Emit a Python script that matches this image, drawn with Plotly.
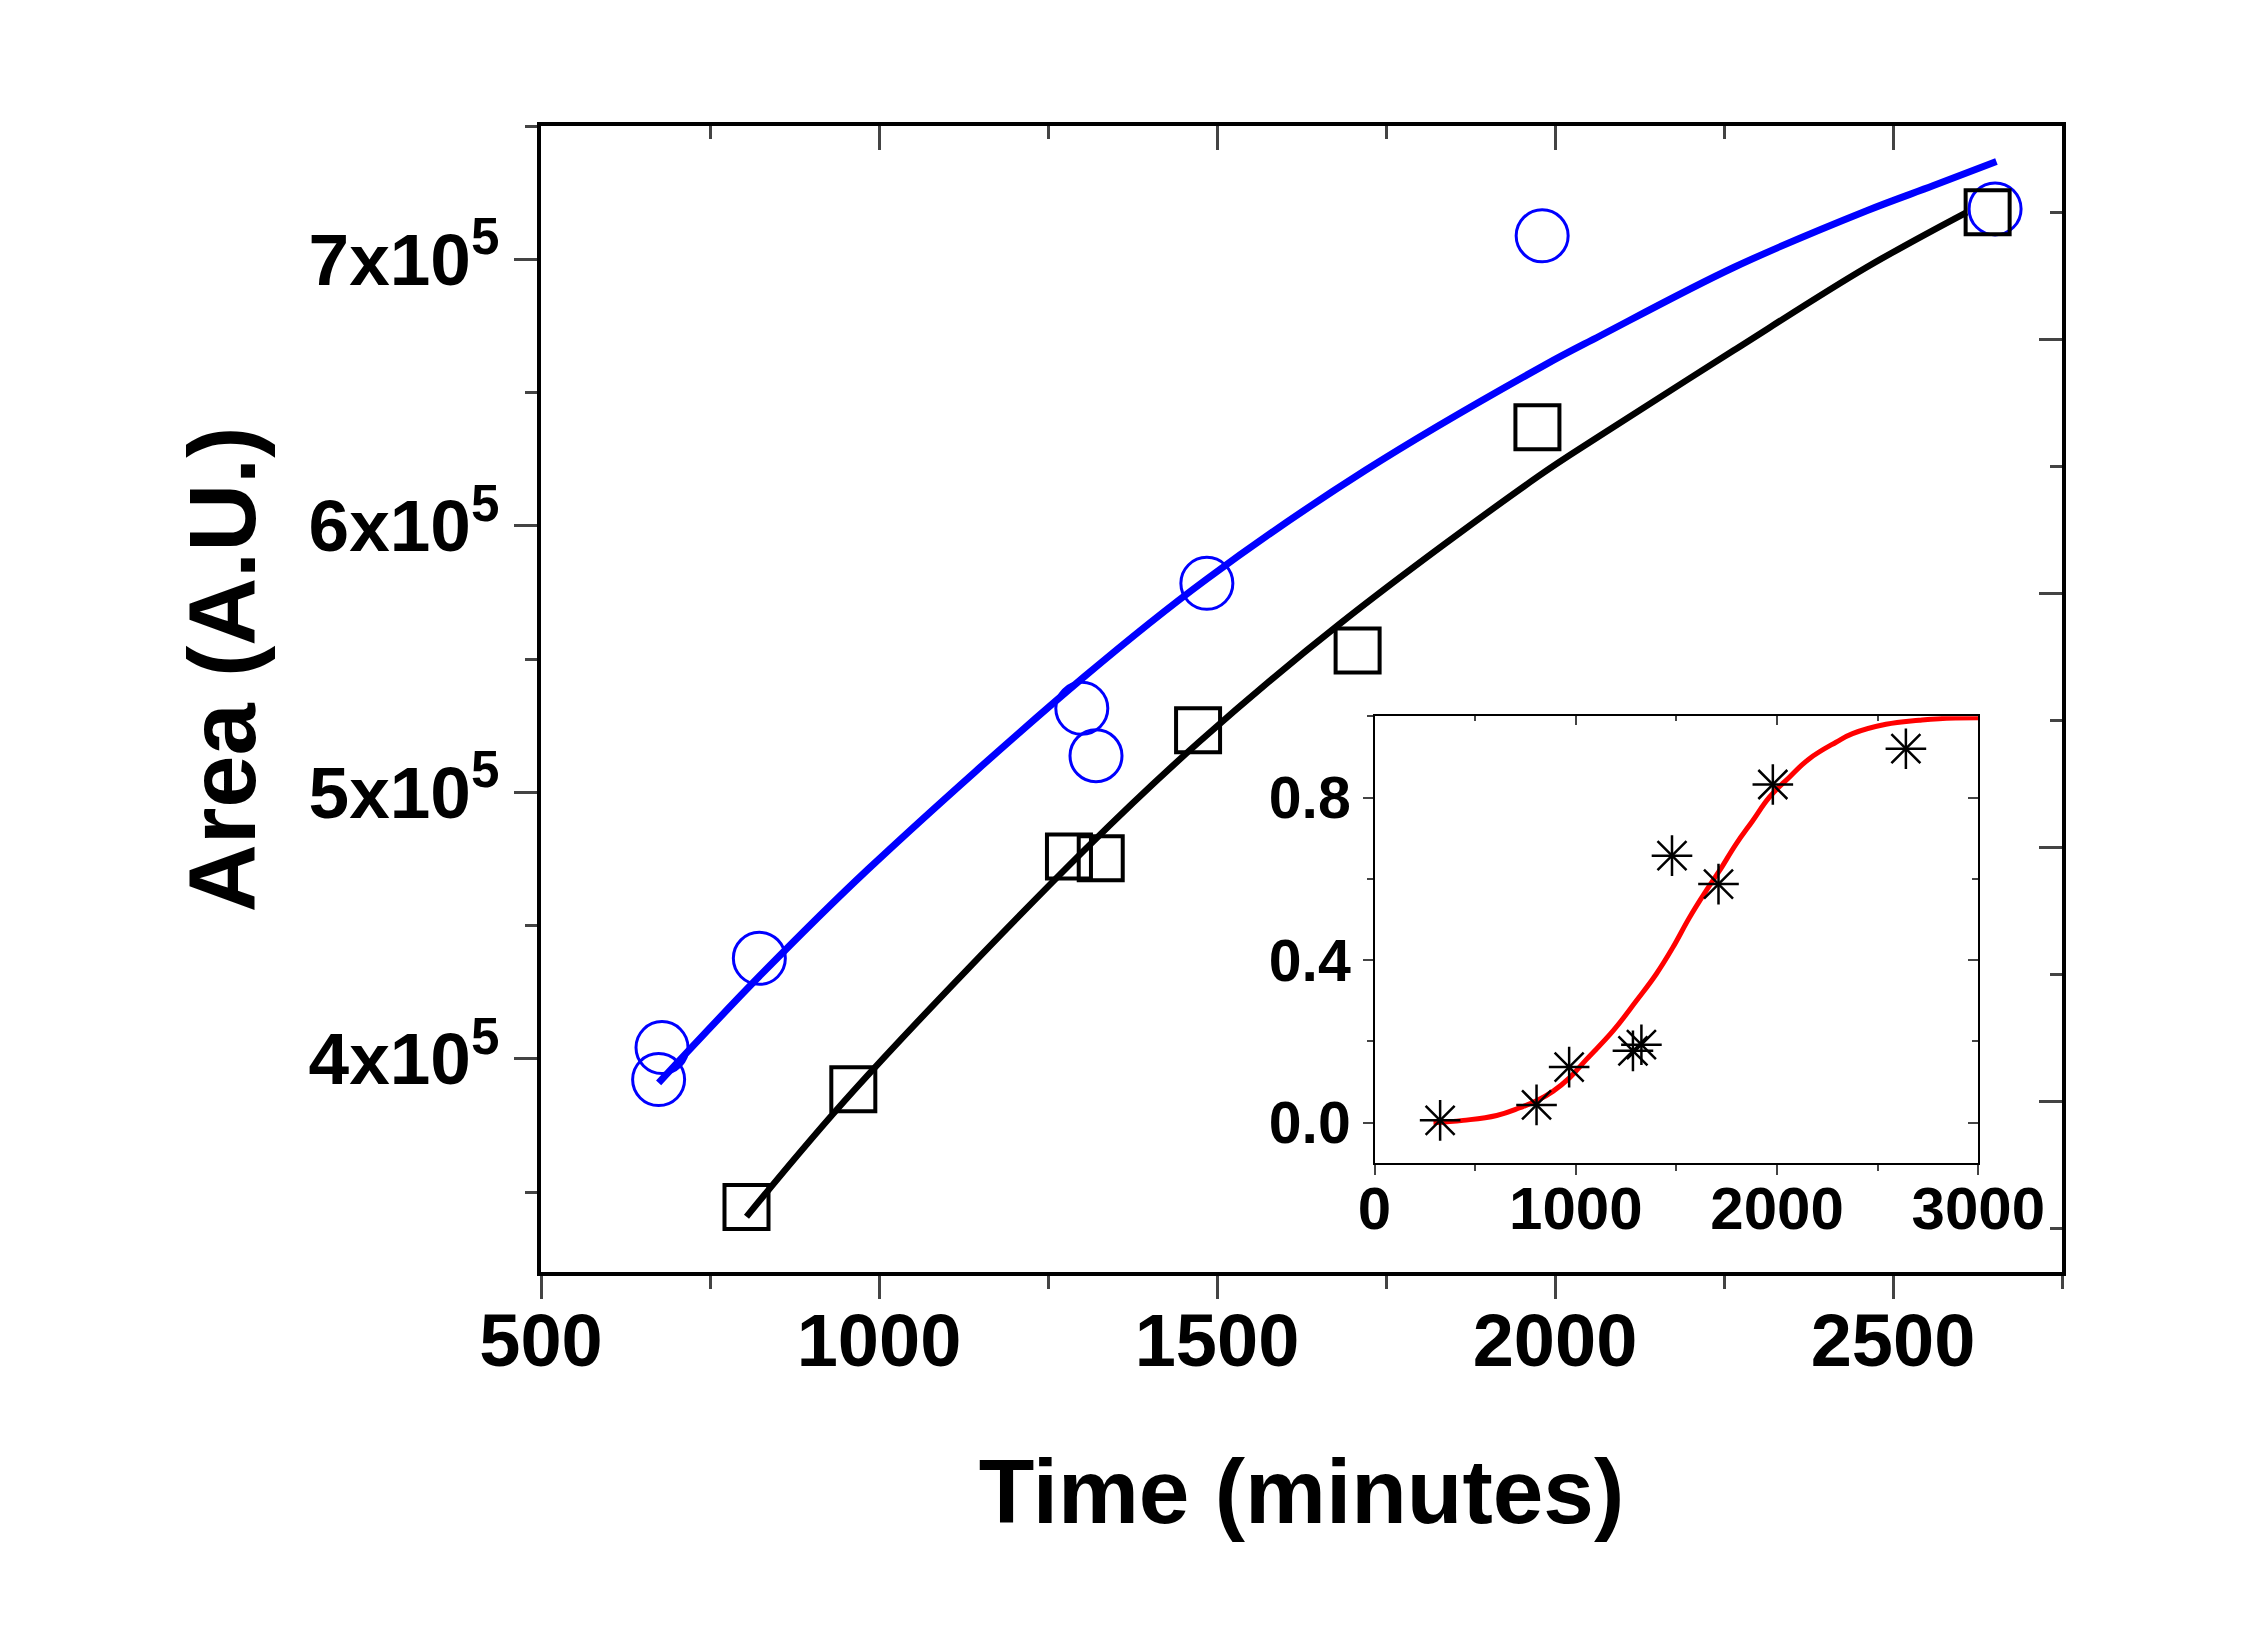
import plotly.graph_objects as go

# main panel: peak area vs time
circle_x = [674, 679, 823, 1300, 1321, 1485, 1981, 2651]
circle_y = [392200, 404200, 437700, 531500, 513700, 578400, 708800, 718900]
square_x = [804, 962, 1281, 1328, 1472, 1708, 1974, 2640]
square_y = [344400, 388600, 475900, 475200, 523300, 553200, 637000, 717600]

blue_fit_x = [674, 823, 984, 1304, 1485, 1719, 1984, 2067, 2265, 2462, 2560, 2653]
blue_fit_y = [391000, 430950, 471170, 543430, 580050, 620720, 660190, 671300, 697000,
              718300, 727650, 736660]
black_fit_x = [804, 962, 1304, 1474, 1682, 1974, 2067, 2264, 2461, 2609]
black_fit_y = [340750, 387870, 478330, 519000, 563280, 618320, 633850, 665740, 697000,
               717630]

y_tick_vals = [400000, 500000, 600000, 700000]
y_tick_text = ['4x10<sup>5</sup>', '5x10<sup>5</sup>', '6x10<sup>5</sup>', '7x10<sup>5</sup>']

# inset: normalised conversion
star_x = [326, 805, 967, 1284, 1326, 1478, 1709, 1979, 2640]
star_y = [0.006, 0.044, 0.137, 0.177, 0.192, 0.657, 0.587, 0.832, 0.920]
red_x = [293, 441, 607, 722, 805, 888, 970, 1053, 1185, 1301, 1400, 1482, 1565, 1648,
         1714, 1797, 1879, 1962, 2061, 2159, 2293, 2375, 2541, 2706, 2805, 3000]
red_y = [0.000, 0.006, 0.018, 0.037, 0.054, 0.078, 0.111, 0.156, 0.226, 0.300, 0.366,
         0.431, 0.505, 0.571, 0.620, 0.686, 0.743, 0.801, 0.850, 0.895, 0.936, 0.957,
         0.980, 0.990, 0.994, 0.996]

FONT = 'Liberation Sans, Arial, sans-serif'

fig = go.Figure()
fig.add_trace(go.Scatter(x=blue_fit_x, y=blue_fit_y, mode='lines',
                         line=dict(color='#0000ff', width=7, shape='spline')))
fig.add_trace(go.Scatter(x=black_fit_x, y=black_fit_y, mode='lines',
                         line=dict(color='black', width=6.5, shape='spline')))
fig.add_trace(go.Scatter(x=circle_x, y=circle_y, mode='markers',
                         marker=dict(symbol='circle-open', size=52, color='#0000ff',
                                     line=dict(width=3, color='#0000ff'))))
# squares sit on the top/right overlay axes so those get drawn too
fig.add_trace(go.Scatter(x=square_x, y=square_y, mode='markers', xaxis='x2', yaxis='y2',
                         marker=dict(symbol='square-open', size=44, color='black',
                                     line=dict(width=4, color='black'))))
fig.add_trace(go.Scatter(x=red_x, y=red_y, mode='lines', xaxis='x3', yaxis='y3',
                         line=dict(color='#ff0000', width=5, shape='spline', smoothing=1.2)))
# Origin-style asterisk: cross + x of equal extent
for sym in ['cross-thin-open', 'x-thin-open']:
    fig.add_trace(go.Scatter(x=star_x, y=star_y, mode='markers', xaxis='x4', yaxis='y4',
                             marker=dict(symbol=sym, size=29, color='black',
                                         line=dict(width=2.5, color='black'))))

common = dict(showgrid=False, zeroline=False, showline=True, linecolor='black')

fig.update_layout(
    width=2250, height=1650,
    margin=dict(l=533, r=196, t=118, b=386),
    plot_bgcolor='white', paper_bgcolor='white',
    showlegend=False,
    font=dict(family=FONT, color='black'),
    xaxis=dict(range=[500, 2750], tick0=500, dtick=500, ticks='outside', ticklen=23,
               tickwidth=3, linewidth=4, ticklabelstandoff=-22,
               minor=dict(ticks='outside', ticklen=13, tickwidth=3, dtick=250),
               tickfont=dict(size=74, weight='bold'),
               title=dict(text='Time (minutes)', standoff=80,
                          font=dict(size=91, weight='bold')),
               **common),
    xaxis2=dict(range=[500, 2750], overlaying='x', side='top', anchor='y',
                tick0=500, dtick=500, ticks='inside', ticklen=24, tickwidth=3,
                linewidth=4, showticklabels=False,
                minor=dict(ticks='inside', ticklen=13, tickwidth=3, dtick=250),
                **common),
    yaxis=dict(range=[320000, 750000], tickvals=y_tick_vals, ticktext=y_tick_text,
               ticks='outside', ticklen=23, tickwidth=3, linewidth=4,
               minor=dict(ticks='outside', ticklen=12, tickwidth=3, dtick=50000, tick0=0),
               tickfont=dict(size=73, weight='bold'),
               **common),
    # right axis in the original has its own (unlabelled) tick spacing
    yaxis2=dict(range=[320000, 750000], overlaying='y', side='right', anchor='x',
                tick0=384000, dtick=95300, ticks='inside', ticklen=23, tickwidth=3,
                linewidth=4, showticklabels=False,
                minor=dict(ticks='inside', ticklen=12, tickwidth=3, dtick=47650,
                           tick0=336350),
                **common),
    xaxis3=dict(domain=[0.548, 0.945], anchor='y3', range=[0, 3000], tick0=0, dtick=1000,
                ticks='outside', ticklen=10, tickwidth=2, linewidth=2,
                ticklabelstandoff=-18,
                minor=dict(ticks='outside', ticklen=6, tickwidth=2, dtick=500),
                tickfont=dict(size=60, weight='bold'),
                **common),
    xaxis4=dict(domain=[0.548, 0.945], overlaying='x3', side='top', anchor='y3',
                range=[0, 3000], tick0=0, dtick=1000, ticks='inside', ticklen=9,
                tickwidth=2, linewidth=2, showticklabels=False,
                minor=dict(ticks='inside', ticklen=5, tickwidth=2, dtick=500),
                **common),
    yaxis3=dict(domain=[0.0947, 0.485], anchor='x3', range=[-0.1, 1.0], tick0=0, dtick=0.4,
                tickformat='.1f', ticks='outside', ticklen=10, tickwidth=2, linewidth=2,
                minor=dict(ticks='outside', ticklen=6, tickwidth=2, dtick=0.2, tick0=0),
                tickfont=dict(size=59, weight='bold'),
                **common),
    yaxis4=dict(domain=[0.0947, 0.485], overlaying='y3', side='right', anchor='x3',
                range=[-0.1, 1.0], tick0=0, dtick=0.4, ticks='inside', ticklen=10,
                tickwidth=2, linewidth=2, showticklabels=False,
                minor=dict(ticks='inside', ticklen=6, tickwidth=2, dtick=0.2, tick0=0),
                **common),
    annotations=[dict(text='Area (A.U.)', textangle=-90, xref='paper', yref='paper',
                      x=-0.2097, y=0.526, xanchor='center', yanchor='middle',
                      showarrow=False, font=dict(size=94, weight='bold'))],
)

fig.write_html('out.html')
